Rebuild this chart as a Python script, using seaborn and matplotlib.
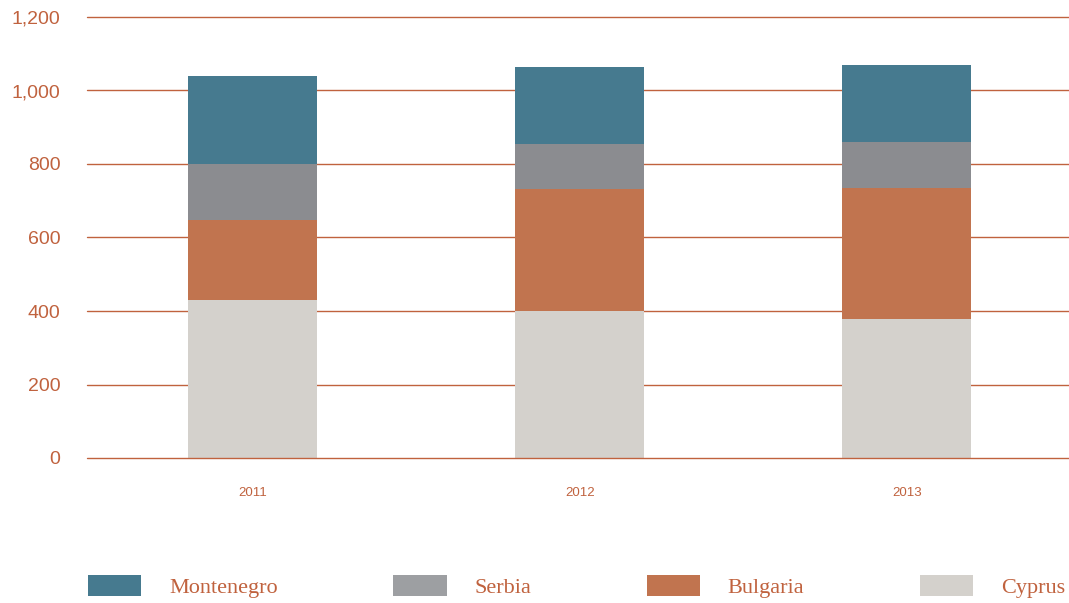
import matplotlib
matplotlib.use("Agg")
import matplotlib.pyplot as plt
import seaborn as sns
import numpy as np
import pandas as pd
from matplotlib.patches import Patch

years = ["2011", "2012", "2013"]
cyprus = [430, 400, 378]
bulgaria = [218, 332, 357]
serbia = [152, 122, 125]
montenegro = [239, 210, 209]
yticks = [0, 200, 400, 600, 800, 1000, 1200]
series_names = ["Cyprus", "Bulgaria", "Serbia", "Montenegro"]
legend_order = ["Montenegro", "Serbia", "Bulgaria", "Cyprus"]

colors = {"Montenegro": "#467a8f", "Serbia": "#8b8c90",
          "Bulgaria": "#c1744f", "Cyprus": "#d4d1cc"}
legend_colors = {"Montenegro": "#467a8f", "Serbia": "#9d9fa2",
                 "Bulgaria": "#c1744f", "Cyprus": "#d4d1cc"}
txt = "#c0623e"

sns.set_theme(style="white")
plt.rcParams['font.family'] = ['Liberation Sans', 'DejaVu Sans']

fig = plt.figure(figsize=(10.69, 6.03), dpi=100)
ax = fig.add_axes([87/1069, 1 - 458/603, 1 - 87/1069, (458 - 17)/603])

df = pd.DataFrame({"year": years, "Cyprus": cyprus, "Bulgaria": bulgaria,
                   "Serbia": serbia, "Montenegro": montenegro})
bottom = np.zeros(len(years))
for name in series_names:
    sns.barplot(data=df, x="year", y=name, order=years, bottom=bottom,
                color=colors[name], width=0.394, saturation=1, ax=ax,
                edgecolor="none", linewidth=0, zorder=2)
    bottom = bottom + df[name].to_numpy()

ax.set_xlim(-0.505, 2.495)
ax.set_ylim(0, 1200)
ax.set_yticks(yticks)
ax.set_yticklabels([f"{v:,}" for v in yticks])
for v in yticks:
    ax.axhline(v, color=txt, lw=1.0, zorder=1.5 if v else 3, clip_on=False)
for s in ax.spines.values():
    s.set_visible(False)
ax.set_xlabel("")
ax.set_ylabel("")
ax.tick_params(axis="y", length=0, pad=19, labelsize=14, labelcolor=txt)
ax.tick_params(axis="x", length=0, pad=21, labelcolor=txt)
for lab in ax.get_xticklabels():
    lab.set_fontfamily(['Liberation Sans', 'DejaVu Sans'])
    lab.set_fontsize(9.5)

handles = [Patch(facecolor=legend_colors[n], edgecolor="none") for n in legend_order]
leg = fig.legend(handles, legend_order, loc="center left",
                 bbox_to_anchor=(88/1069, 0.028, (1065 - 88)/1069, 0.0),
                 mode="expand", ncol=4, frameon=False,
                 handlelength=2.4, handleheight=1.1, handletextpad=1.25,
                 borderaxespad=0, borderpad=0,
                 prop={"family": ["Liberation Serif", "DejaVu Serif"], "size": 16})
for t in leg.get_texts():
    t.set_color(txt)

fig.savefig("out.png", dpi=100)
